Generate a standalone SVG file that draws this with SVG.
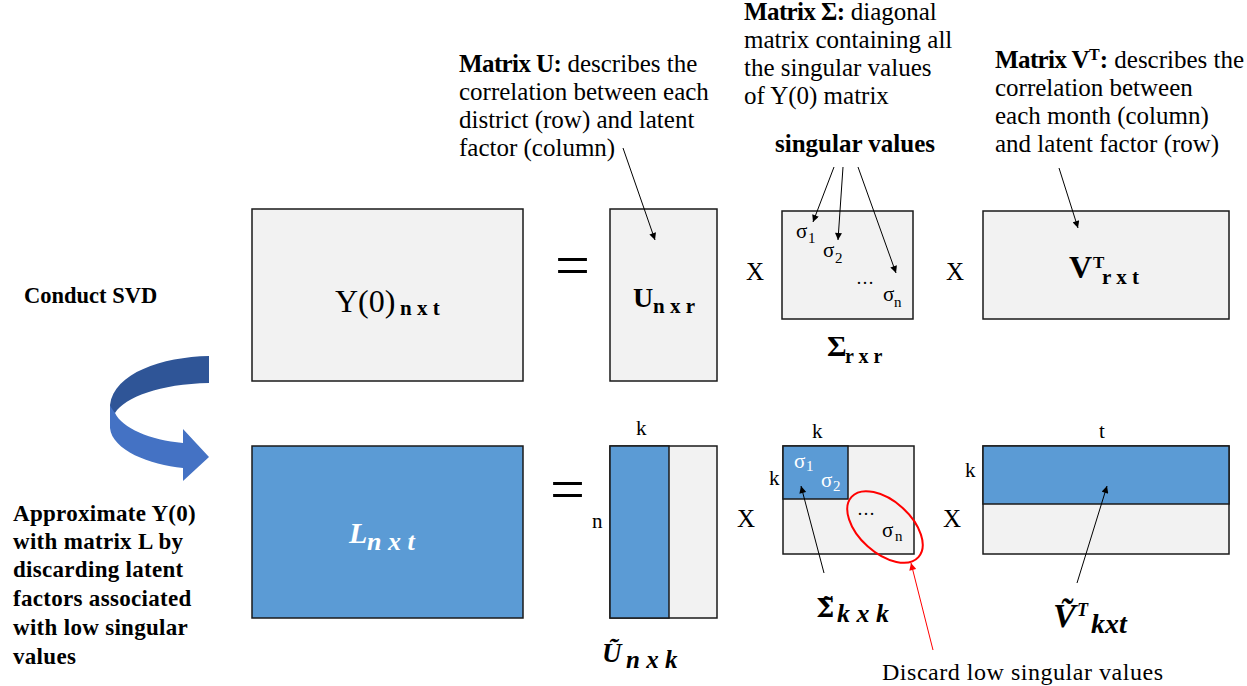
<svg xmlns="http://www.w3.org/2000/svg" width="1247" height="686" viewBox="0 0 1247 686">
<defs>
<marker id="ah" viewBox="0 0 10 10" refX="10" refY="5" markerWidth="8" markerHeight="7" orient="auto" markerUnits="userSpaceOnUse"><path d="M0,0 L10,5 L0,10 z" fill="#000"/></marker>
<marker id="ahr" viewBox="0 0 10 10" refX="10" refY="5" markerWidth="8" markerHeight="7" orient="auto" markerUnits="userSpaceOnUse"><path d="M0,0 L10,5 L0,10 z" fill="#FF0000"/></marker>
</defs>
<style>
text{font-family:"Liberation Serif","Times New Roman",serif;fill:#000}
text.dv{font-family:"DejaVu Serif",serif}
.ann{font-size:25px}
.b{font-weight:bold}
.bi{font-weight:bold;font-style:italic}
.box{fill:#F2F2F2;stroke:#1a1a1a;stroke-width:1.5}
.blue{fill:#5B9BD5;stroke:#1a1a1a;stroke-width:1.5}
.conn{stroke:#000;stroke-width:1;fill:none;marker-end:url(#ah)}
.red{stroke:#FF0000;stroke-width:1;fill:none;marker-end:url(#ahr)}
.eq{font-size:62px}
.op{font-size:25px}
.dim{font-size:21px}
.sg{font-size:21px}
.ss{font-size:15px}
.w{fill:#FFFFFF}
.side{font-size:23px;font-weight:bold;letter-spacing:0.3px}
</style>
<rect width="1247" height="686" fill="#FFFFFF"/>

<g id="conduct-svd">
<text x="24" y="303" font-size="22.5" class="b">Conduct SVD</text>
<path d="M209,356 C162,357 114,373 110,405 L110,412 L115,413 C125,397 160,384 209,383 Z" fill="#2F5597"/>
<path d="M110,405 L110,428 C112,450 150,465 183,468 L183,481 L209,457 L183,429 L183,443 C150,440 122,428 115,413 C113,410 111,408 110,405 Z" fill="#4472C4"/>
</g>

<g id="approx-text">
<text class="side" x="13" y="521">Approximate Y(0)</text>
<text class="side" x="13" y="549">with matrix L by</text>
<text class="side" x="13" y="577">discarding latent</text>
<text class="side" x="13" y="606">factors associated</text>
<text class="side" x="13" y="635">with low singular</text>
<text class="side" x="13" y="664">values</text>
</g>

<g id="note-u">
<text class="ann" x="459" y="72"><tspan class="b" letter-spacing="-0.6">Matrix U:</tspan> describes the</text>
<text class="ann" x="459" y="100">correlation between each</text>
<text class="ann" x="459" y="128">district (row) and latent</text>
<text class="ann" x="459" y="156">factor (column)</text>
</g>

<g id="note-sigma">
<text class="ann" x="744" y="20"><tspan class="b" letter-spacing="-0.6">Matrix Σ:</tspan> diagonal</text>
<text class="ann" x="744" y="48">matrix containing all</text>
<text class="ann" x="744" y="76">the singular values</text>
<text class="ann" x="744" y="104">of Y(0) matrix</text>
<text class="ann b" x="775" y="152" font-size="23.5">singular values</text>
</g>

<g id="note-vt">
<text class="ann" x="995" y="68" font-size="24"><tspan class="b" letter-spacing="-0.6">Matrix V</tspan><tspan class="b" font-size="16" dy="-8">T</tspan><tspan class="b" dy="8">:</tspan> describes the</text>
<text class="ann" x="995" y="96" font-size="24">correlation between</text>
<text class="ann" x="995" y="124" font-size="24">each month (column)</text>
<text class="ann" x="995" y="152" font-size="24">and latent factor (row)</text>
</g>

<g id="matrix-y">
<rect class="box" x="252" y="209" width="271" height="172"/>
<text x="335" y="312" font-size="32">Y(0)</text>
<text x="400" y="315" font-size="21" class="b">n x t</text>
</g>

<g id="eq-top"><text class="eq" x="555" y="286">=</text></g>

<g id="matrix-u">
<rect class="box" x="610" y="209" width="107" height="172"/>
<text x="633" y="307" font-size="28" class="b">U</text>
<text x="653" y="313" font-size="21" class="b">n x r</text>
</g>

<g id="times-top-1"><text class="op" x="746" y="280">X</text></g>

<g id="matrix-sigma">
<rect class="box" x="782" y="211" width="131" height="108"/>
<text class="sg" x="796" y="238">σ</text><text class="ss" x="808" y="243">1</text>
<text class="sg" x="823" y="257">σ</text><text class="ss" x="835" y="263">2</text>
<text x="856" y="284" font-size="18">…</text>
<text class="sg" x="883" y="301">σ</text><text class="ss" x="894" y="307">n</text>
<text x="827" y="356" font-size="30" class="b">Σ</text>
<text x="845" y="363" font-size="20" class="b">r x r</text>
</g>

<g id="times-top-2"><text class="op" x="946" y="280">X</text></g>

<g id="matrix-vt">
<rect class="box" x="983" y="211" width="246" height="108"/>
<text x="1069" y="278" font-size="32" class="b">V</text>
<text x="1093" y="268" font-size="17" class="b">T</text>
<text x="1102" y="284" font-size="21" class="b">r x t</text>
</g>

<g id="matrix-l">
<rect class="blue" x="252" y="446" width="271" height="172"/>
<text x="349" y="543" font-size="30" class="bi w">L</text>
<text x="367" y="550" font-size="26" class="bi w">n x t</text>
</g>

<g id="eq-bottom"><text class="eq" x="550" y="510">=</text></g>

<g id="matrix-u-tilde">
<rect class="box" x="610" y="446" width="107" height="172"/>
<rect class="blue" x="610" y="446" width="59" height="172"/>
<text class="dim" x="636" y="435">k</text>
<text class="dim" x="592" y="528">n</text>
<text x="602" y="662" font-size="27" class="bi">Ũ</text>
<text x="626" y="668" font-size="25" class="bi">n x k</text>
</g>

<g id="times-bottom-1"><text class="op" x="737" y="527" font-size="26">X</text></g>

<g id="matrix-sigma-tilde">
<rect class="box" x="783" y="446" width="131" height="108"/>
<rect class="blue" x="783" y="446" width="65" height="53"/>
<text class="dim" x="812" y="438">k</text>
<text class="dim" x="769" y="485">k</text>
<text class="sg w" x="794" y="468">σ</text><text class="ss w" x="806" y="471">1</text>
<text class="sg w" x="821" y="487">σ</text><text class="ss w" x="833" y="491">2</text>
<text x="857" y="515" font-size="18">…</text>
<text class="sg" x="882" y="537">σ</text><text class="ss" x="895" y="541">n</text>
<text class="dv b" x="816" y="617" font-size="26">Σ̃</text>
<text x="837" y="622" font-size="26" class="bi">k x k</text>
<ellipse cx="885" cy="527" rx="45" ry="26" transform="rotate(42 885 527)" fill="none" stroke="#FF0000" stroke-width="2"/>
</g>

<g id="times-bottom-2"><text class="op" x="943" y="527" font-size="26">X</text></g>

<g id="matrix-vt-tilde">
<rect class="box" x="983" y="446" width="246" height="108"/>
<rect class="blue" x="983" y="446" width="246" height="58"/>
<text class="dim" x="1099" y="438">t</text>
<text class="dim" x="965" y="477">k</text>
<text x="1053" y="627" font-size="34" class="bi">Ṽ</text>
<text x="1077" y="616" font-size="18" class="bi">T</text>
<text x="1091" y="633" font-size="28" class="bi">kxt</text>
</g>

<g id="discard-label">
<text x="882" y="680" font-size="24" textLength="281">Discard low singular values</text>
</g>

<g id="connectors">
<path class="conn" d="M623,148 L655,240"/>
<path class="conn" d="M834,167 L813,222"/>
<path class="conn" d="M843,167 L838,240"/>
<path class="conn" d="M858,167 L896,273"/>
<path class="conn" d="M1059,168 L1078,228"/>
<path class="conn" d="M824,573 L801,486"/>
<path class="conn" d="M1077,583 L1107,486"/>
<path class="red" d="M933,650 L911,563"/>
</g>
</svg>
